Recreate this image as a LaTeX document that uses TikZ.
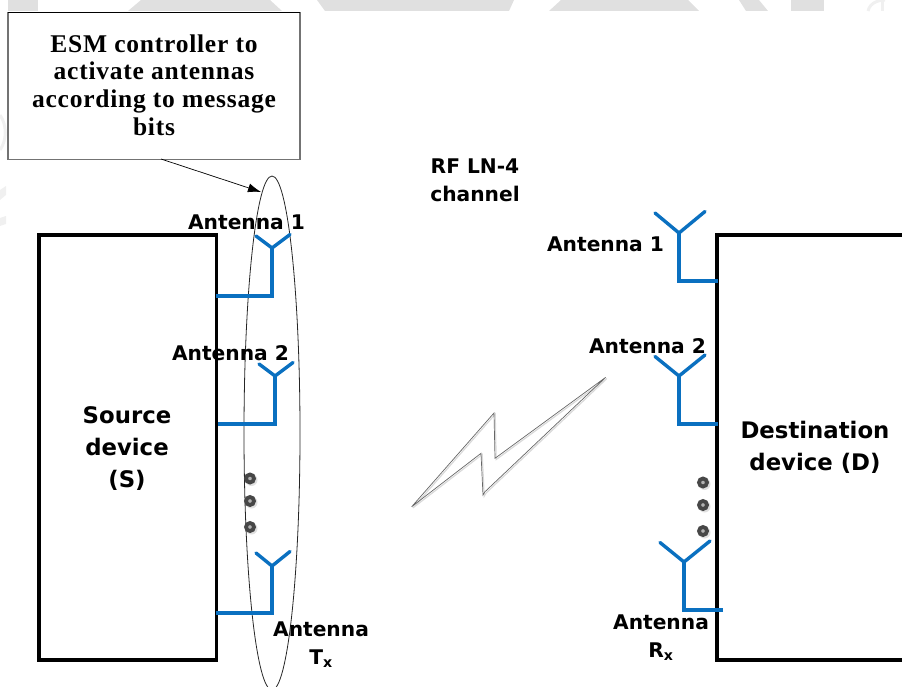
\documentclass[tikz,border=0pt]{standalone}
\usepackage{fontspec}
\setmainfont{Liberation Serif}[LetterSpace=3]
\newfontfamily\lblfont{DejaVu Sans}[BoldFont={DejaVu Sans Bold}]
\usetikzlibrary{arrows.meta,shapes.geometric}
\definecolor{antblue}{RGB}{10,112,192}
\definecolor{wm}{RGB}{224,224,224}
\definecolor{wmf}{RGB}{240,240,240}
\tikzset{
  x=1pt,y=-1pt,
  devbox/.style={draw=black,line width=3.6pt,fill=white,rectangle,inner sep=0pt,outer sep=0pt,anchor=north west},
  ctrlbox/.style={draw=black!55,line width=1.2pt,fill=white,rectangle,inner sep=0pt,outer sep=0pt,anchor=north west,minimum width=292pt,minimum height=147pt},
  ctrltext/.style={font=\fontsize{25.5}{27.7}\selectfont\bfseries,align=center,inner sep=0pt},
  lbl/.style={font=\lblfont\fontsize{20.2}{28}\selectfont\bfseries,align=center,inner sep=0pt},
  big/.style={font=\lblfont\fontsize{22.8}{32}\selectfont\bfseries,align=center,inner sep=0pt},
  ant/.style={draw=antblue,line width=3.6pt,line join=miter},
  antarm/.style={draw=antblue,line width=3.4pt,line cap=round},
  ring/.style={circle,draw=black!72,line width=3.8pt,minimum size=8pt,inner sep=0pt,outer sep=0pt,fill=black!30},
  ringsh/.style={circle,fill=black!12,minimum size=12pt,inner sep=0pt,outer sep=0pt},
  thinl/.style={draw=black,line width=0.7pt},
}
\newcommand{\antenna}[7]{%
  % #1 name, #2 wall x, #3 wall y, #4 stem x, #5 top y, #6 half-width, #7 arm rise
  \coordinate (#1w) at (#2,#3);
  \coordinate (#1c) at (#4,#3);
  \coordinate (#1t) at (#4,#5);
  \coordinate (#1l) at (#4-#6,#5-#7);
  \coordinate (#1r) at (#4+#6+2,#5-#7-1.5);
  \draw[ant] (#1w) -- (#1c) -- (#1t);
  \draw[antarm] (#1l) -- (#1t) -- (#1r);
}
\begin{document}
\begin{tikzpicture}
\useasboundingbox (0,0) rectangle (902,687);
% watermark remains along the edges
\fill[wm] (8,0) -- (38,0) -- (38,11) -- (8,11) -- cycle;
\fill[wm] (141,0) -- (270,0) -- (282,11) -- (128,11) -- cycle;
\fill[wm] (317,0) -- (514,0) -- (509,11) -- (325,11) -- cycle;
\fill[wm] (561,0) -- (688,0) -- (699,11) -- (549,11) -- cycle;
\fill[wm] (739,0) -- (759,0) -- (768,11) -- (746,11) -- cycle;
\fill[wm] (791,0) -- (824,0) -- (824,11) -- (791,11) -- cycle;
\draw[wmf,line width=3pt] (868,11) .. controls (870,2) and (880,0) .. (885,0);
\draw[wmf,line width=3pt] (882,11) -- (882,0);
\draw[wmf,line width=3pt] (0,115) .. controls (7,125) and (7,140) .. (0,150);
\fill[wmf] (0,190) -- (6,186) -- (6,195) -- (0,200) -- cycle;
\fill[wmf] (0,218) -- (6,216) -- (6,224) -- (0,226) -- cycle;
% devices
\node[devbox,minimum width=177.5pt,minimum height=425pt] (src) at (39,235) {};
\node[devbox,minimum width=240pt,minimum height=425pt] (dst) at (717,235) {};
% controller
\node[ctrlbox] (ctrl) at (8,12.5) {};
\draw[black,line width=1.2pt] (ctrl.north west) -- (ctrl.north east);
\node[ctrltext] (ctrltxt) at (154,85) {ESM controller to\\activate antennas\\according to message\\bits};
% ellipse
\node[draw=black!85,line width=0.8pt,ellipse,minimum width=56pt,minimum height=514pt,inner sep=0pt,outer sep=0pt] (ell) at (272,433) {};
\coordinate (arrowend) at (261,192);
\draw[thinl,-{Latex[length=13pt,width=9pt]}] (161,159) -- (arrowend);
% antennas
\antenna{ta}{216}{296}{272}{248}{16}{12}
\antenna{tb}{218}{424}{275}{376}{16}{12}
\antenna{tc}{216}{613}{272}{566}{16}{13}
\antenna{ra}{718}{281}{679}{233}{24}{20}
\antenna{rb}{718}{424}{679}{376}{24}{19.5}
\antenna{rc}{723}{610}{684}{562}{24}{19.5}
% dots
\foreach \n/\x/\y in {d1/250/478.5,d2/250/501,d3/250/527,d4/703/482.5,d5/703/505,d6/703/531}{
  \node[ringsh] at (\x+1.5,\y+1.5) {};
  \node[ring] (\n) at (\x,\y) {};
}
% lightning
\coordinate (l1) at (411.7,506.7);
\coordinate (l2) at (494,413);
\coordinate (l3) at (495,458.3);
\coordinate (l4) at (605.7,377.3);
\coordinate (l5) at (485,491.7);
\coordinate (l6) at (483,495);
\coordinate (l7) at (481,453.3);
\draw[black!15,line width=1.2pt,shift={(1.2,1.2)}] (411.7,506.7) -- (494,413) -- (495,458.3) -- (605.7,377.3) -- (485,491.7) -- (483,495) -- (481,453.3) -- cycle;
\draw[black!60,line width=0.7pt,line join=miter] (l1) -- (l2) -- (l3) -- (l4) -- (l5) -- (l6) -- (l7) -- cycle;
% labels
\node[lbl] (ta1) at (246.5,222.5) {Antenna 1};
\node[lbl] (ta2) at (230.5,353.5) {Antenna 2};
\node[lbl] (ta3) at (321,645) {Antenna\\T\textsubscript{x}};
\node[lbl] (rfl) at (475,180) {RF LN-4\\channel};
\node[lbl] (ra1) at (605.5,244.5) {Antenna 1};
\node[lbl] (ra2) at (647.5,346.5) {Antenna 2};
\node[lbl] (ra3) at (661,638) {Antenna\\R\textsubscript{x}};
\node[big] (srcl) at (127,448.5) {Source\\device\\(S)};
\node[big] (dstl) at (815,447) {Destination\\device (D)};
\end{tikzpicture}
\end{document}
